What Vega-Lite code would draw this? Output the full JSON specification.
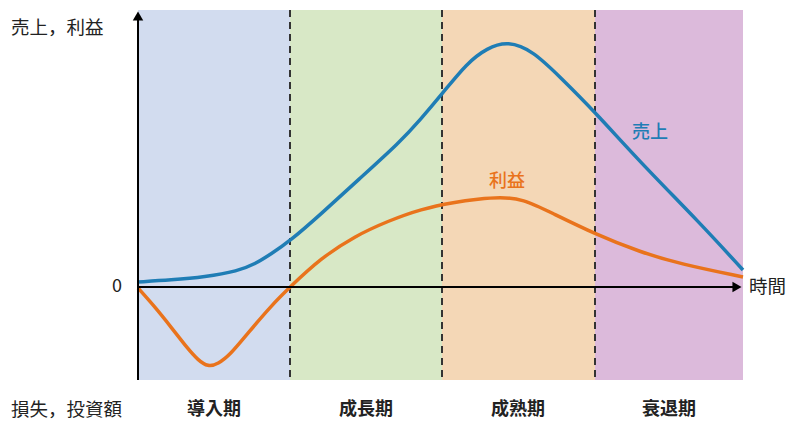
{
  "$schema": "https://vega.github.io/schema/vega-lite/v6.json",
  "width": 789,
  "height": 421,
  "padding": 0,
  "autosize": {"type": "fit", "contains": "padding"},
  "config": {"view": {"stroke": null}, "font": "Noto Sans CJK JP"},
  "datasets": {
    "bands": [
      {"phase": "導入期", "start": 0, "end": 152, "top": 277, "bottom": -93},
      {"phase": "成長期", "start": 152, "end": 304, "top": 277, "bottom": -93},
      {"phase": "成熟期", "start": 304, "end": 457, "top": 277, "bottom": -93},
      {"phase": "衰退期", "start": 457, "end": 605, "top": 277, "bottom": -93}
    ],
    "dividers": [
      {"t": 152, "top": 277, "bottom": -93},
      {"t": 304, "top": 277, "bottom": -93},
      {"t": 457, "top": 277, "bottom": -93}
    ],
    "curves": [
      {"series": "売上", "t": 0, "v": 5},
      {"series": "売上", "t": 33, "v": 7},
      {"series": "売上", "t": 67, "v": 10},
      {"series": "売上", "t": 100, "v": 16},
      {"series": "売上", "t": 117, "v": 23},
      {"series": "売上", "t": 133, "v": 33},
      {"series": "売上", "t": 152, "v": 46},
      {"series": "売上", "t": 183, "v": 73},
      {"series": "売上", "t": 220, "v": 107},
      {"series": "売上", "t": 262, "v": 145},
      {"series": "売上", "t": 282, "v": 167},
      {"series": "売上", "t": 304, "v": 193},
      {"series": "売上", "t": 329, "v": 224},
      {"series": "売上", "t": 349, "v": 239},
      {"series": "売上", "t": 370, "v": 246},
      {"series": "売上", "t": 395, "v": 236},
      {"series": "売上", "t": 422, "v": 210},
      {"series": "売上", "t": 457, "v": 175},
      {"series": "売上", "t": 502, "v": 125},
      {"series": "売上", "t": 562, "v": 64},
      {"series": "売上", "t": 605, "v": 17},
      {"series": "利益", "t": 0, "v": -1},
      {"series": "利益", "t": 17, "v": -20},
      {"series": "利益", "t": 33, "v": -40},
      {"series": "利益", "t": 50, "v": -62},
      {"series": "利益", "t": 60, "v": -73},
      {"series": "利益", "t": 70, "v": -80},
      {"series": "利益", "t": 80, "v": -77},
      {"series": "利益", "t": 92, "v": -68},
      {"series": "利益", "t": 110, "v": -46},
      {"series": "利益", "t": 133, "v": -19},
      {"series": "利益", "t": 152, "v": 0},
      {"series": "利益", "t": 183, "v": 29},
      {"series": "利益", "t": 217, "v": 51},
      {"series": "利益", "t": 250, "v": 66},
      {"series": "利益", "t": 283, "v": 78},
      {"series": "利益", "t": 317, "v": 85},
      {"series": "利益", "t": 340, "v": 88},
      {"series": "利益", "t": 362, "v": 90},
      {"series": "利益", "t": 385, "v": 88},
      {"series": "利益", "t": 412, "v": 75},
      {"series": "利益", "t": 457, "v": 53},
      {"series": "利益", "t": 502, "v": 35},
      {"series": "利益", "t": 542, "v": 23},
      {"series": "利益", "t": 605, "v": 10}
    ],
    "plain": [
      {"text": "売上，利益", "t": -127, "v": 259},
      {"text": "時間", "t": 611, "v": 0},
      {"text": "損失，投資額", "t": -127, "v": -123}
    ],
    "phases": [
      {"text": "導入期", "t": 76, "v": -123},
      {"text": "成長期", "t": 228, "v": -123},
      {"text": "成熟期", "t": 380, "v": -123},
      {"text": "衰退期", "t": 531, "v": -123}
    ]
  },
  "layer": [
    {
      "data": {"name": "bands"},
      "mark": {"type": "rect"},
      "encoding": {
        "x": {"field": "start", "type": "quantitative", "scale": {"domain": [-138, 651], "nice": false, "zero": false}, "axis": null},
        "x2": {"field": "end"},
        "y": {"field": "top", "type": "quantitative", "scale": {"domain": [-134, 287], "nice": false, "zero": false}, "axis": null},
        "y2": {"field": "bottom"},
        "color": {"field": "phase", "type": "nominal", "scale": {"domain": ["導入期", "成長期", "成熟期", "衰退期"], "range": ["#d2dcef", "#d8e8c6", "#f4d7b6", "#dcbadb"]}, "legend": null}
      }
    },
    {
      "data": {"name": "dividers"},
      "mark": {"type": "rule", "color": "#333333", "strokeWidth": 2, "strokeDash": [7, 5]},
      "encoding": {
        "x": {"field": "t", "type": "quantitative"},
        "y": {"field": "top", "type": "quantitative"},
        "y2": {"field": "bottom"}
      }
    },
    {
      "data": {"name": "curves"},
      "mark": {"type": "line", "interpolate": "basis", "strokeWidth": 3.5},
      "encoding": {
        "x": {"field": "t", "type": "quantitative"},
        "y": {"field": "v", "type": "quantitative"},
        "detail": {"field": "series"},
        "stroke": {"field": "series", "type": "nominal", "scale": {"domain": ["売上", "利益"], "range": ["#1f7db5", "#e9731c"]}, "legend": null}
      }
    },
    {
      "data": {"values": [{"a": 0, "b0": -93, "b1": 272}]},
      "mark": {"type": "rule", "color": "#000000", "strokeWidth": 2},
      "encoding": {
        "x": {"field": "a", "type": "quantitative"},
        "y": {"field": "b0", "type": "quantitative"},
        "y2": {"field": "b1"}
      }
    },
    {
      "data": {"values": [{"a0": 0, "a1": 600, "b": 0}]},
      "mark": {"type": "rule", "color": "#000000", "strokeWidth": 2},
      "encoding": {
        "x": {"field": "a0", "type": "quantitative"},
        "x2": {"field": "a1"},
        "y": {"field": "b", "type": "quantitative"}
      }
    },
    {
      "data": {"values": [{"a": 0, "b": 271}]},
      "mark": {"type": "point", "shape": "triangle-up", "filled": true, "color": "#000000", "size": 110, "opacity": 1},
      "encoding": {
        "x": {"field": "a", "type": "quantitative"},
        "y": {"field": "b", "type": "quantitative"}
      }
    },
    {
      "data": {"values": [{"a": 599, "b": 0}]},
      "mark": {"type": "point", "shape": "triangle-right", "filled": true, "color": "#000000", "size": 110, "opacity": 1},
      "encoding": {
        "x": {"field": "a", "type": "quantitative"},
        "y": {"field": "b", "type": "quantitative"}
      }
    },
    {
      "data": {"values": [{"text": "0", "t": -16, "v": 0}]},
      "mark": {"type": "text", "align": "right", "baseline": "middle", "fontSize": 18, "color": "#222222"},
      "encoding": {
        "x": {"field": "t", "type": "quantitative"},
        "y": {"field": "v", "type": "quantitative"},
        "text": {"field": "text"}
      }
    },
    {
      "data": {"name": "plain"},
      "mark": {"type": "text", "align": "left", "baseline": "middle", "fontSize": 18.5, "color": "#222222"},
      "encoding": {
        "x": {"field": "t", "type": "quantitative"},
        "y": {"field": "v", "type": "quantitative"},
        "text": {"field": "text"}
      }
    },
    {
      "data": {"name": "phases"},
      "mark": {"type": "text", "align": "center", "baseline": "middle", "fontSize": 18, "fontWeight": "bold", "color": "#222222"},
      "encoding": {
        "x": {"field": "t", "type": "quantitative"},
        "y": {"field": "v", "type": "quantitative"},
        "text": {"field": "text"}
      }
    },
    {
      "data": {"values": [{"text": "売上", "t": 512, "v": 154}]},
      "mark": {"type": "text", "align": "center", "baseline": "middle", "fontSize": 18, "fontWeight": 500, "color": "#1f7db5"},
      "encoding": {
        "x": {"field": "t", "type": "quantitative"},
        "y": {"field": "v", "type": "quantitative"},
        "text": {"field": "text"}
      }
    },
    {
      "data": {"values": [{"text": "利益", "t": 369, "v": 105}]},
      "mark": {"type": "text", "align": "center", "baseline": "middle", "fontSize": 18, "fontWeight": 500, "color": "#e9731c"},
      "encoding": {
        "x": {"field": "t", "type": "quantitative"},
        "y": {"field": "v", "type": "quantitative"},
        "text": {"field": "text"}
      }
    }
  ]
}
